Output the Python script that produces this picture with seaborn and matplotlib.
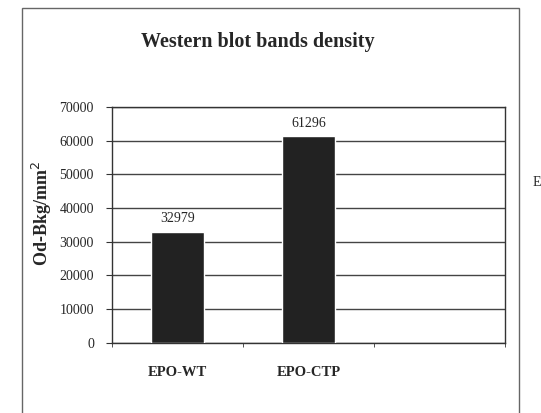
import matplotlib
matplotlib.use("Agg")
import matplotlib.pyplot as plt
import seaborn as sns
import pandas as pd
from matplotlib.patches import Rectangle

# data
groups = ["EPO-WT", "EPO-CTP"]
density = [32979, 61296]
slots = groups + [" "]  # empty third slot like the original
y_ticks = [0, 10000, 20000, 30000, 40000, 50000, 60000, 70000]

df = pd.DataFrame({"group": groups, "density": density})

sns.set_style("white")
plt.rcParams["font.family"] = ["Liberation Serif", "DejaVu Serif"]

fig = plt.figure(figsize=(5.41, 4.13), dpi=100)
ax = fig.add_axes([0.207, 0.170, 0.726, 0.571])

sns.barplot(data=df, x="group", y="density", order=slots, color="#222222",
            width=0.41, saturation=1, ax=ax, zorder=3)

ax.set_ylim(0, 70000)
ax.set_xlim(-0.5, 2.5)
ax.set_yticks(y_ticks)
ax.set_yticklabels([str(v) for v in y_ticks], fontsize=10)
ax.yaxis.grid(True, color="#444444", linewidth=1.0, zorder=0)
ax.tick_params(axis="y", length=4, color="#333333", pad=9, direction="out", left=True)

# category labels with boundary ticks like Excel
ax.set_xticks([0, 1])
ax.set_xticklabels(groups, fontsize=10.5, fontweight="bold")
ax.tick_params(axis="x", length=0, pad=17)
ax.set_xticks([-0.5, 0.5, 1.5, 2.5], minor=True)
ax.tick_params(axis="x", which="minor", length=3, color="#333333", bottom=True)

for s in ax.spines.values():
    s.set_color("#333333")
    s.set_linewidth(1.0)

ax.set_xlabel("")
ax.set_ylabel("Od-Bkg/mm$^{2}$", fontsize=13, fontweight="bold")
ax.yaxis.label.set_va("center")
ax.yaxis.set_label_coords(-0.178, 0.55)

for i, v in enumerate(density):
    ax.text(i, v + 2000, str(v), ha="center", va="bottom", fontsize=10)

fig.text(0.477, 0.898, "Western blot bands density", ha="center", va="center",
         fontsize=14.5, fontweight="bold")

# outer chart frame and the edge of the neighbouring panel
fig.add_artist(Rectangle((0.041, -0.05), 0.918, 1.03, transform=fig.transFigure,
                         fill=False, edgecolor="#666666", linewidth=1.0))
fig.text(0.984, 0.557, "E", ha="left", va="center", fontsize=10)

fig.savefig("out.png", dpi=100)
